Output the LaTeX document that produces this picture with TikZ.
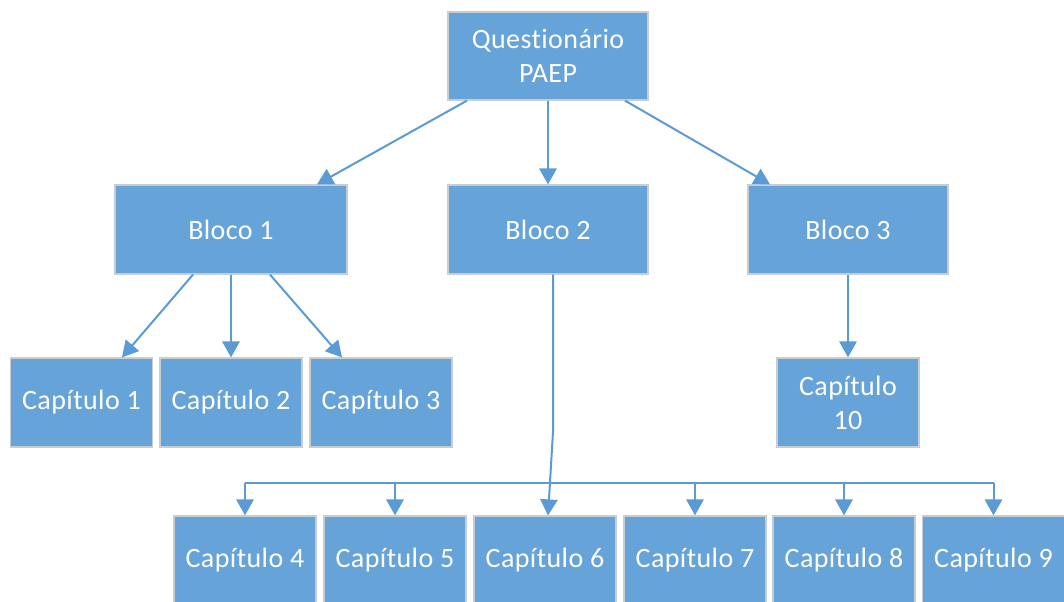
\documentclass[tikz,border=0pt]{standalone}
\usepackage{fontspec}
\setmainfont[Ligatures={NoCommon},LetterSpace=1.5]{Carlito}
\usetikzlibrary{arrows.meta,calc}
\definecolor{boxblue}{RGB}{102,163,216}
\definecolor{lineblue}{RGB}{91,155,213}
\definecolor{boxedge}{RGB}{200,205,210}
\begin{document}
\begin{tikzpicture}[x=0.75pt,y=-0.75pt,
  box/.style={rectangle, fill=boxblue, draw=boxedge, line width=0.9pt, text=white,
    font=\fontsize{21}{25.5}\selectfont, align=center, inner sep=0pt,
    minimum height=66.75pt},
  wbox/.style={box, minimum width=150pt},
  cbox/.style={box, minimum width=106.5pt},
  conn/.style={draw=lineblue, line width=1.5pt, -{Triangle[length=12pt,width=13pt]}},
  bus/.style={draw=lineblue, line width=1.5pt}]
\clip (0,0) rectangle (1064,601);
\fill[white] (0,0) rectangle (1064,601);
\node[wbox, minimum height=66pt] (top) at (548,56) {Questionário\\PAEP};
\node[box, minimum width=174pt] (b1) at (231,229.5) {Bloco 1};
\node[wbox] (b2) at (548,229.5) {Bloco 2};
\node[wbox] (b3) at (848,229.5) {Bloco 3};
\node[cbox] (c1) at (81.5,402.5) {Capítulo 1};
\node[cbox] (c2) at (231,402.5) {Capítulo 2};
\node[cbox] (c3) at (381,402.5) {Capítulo 3};
\node[cbox] (c10) at (848,402.5) {Capítulo\\10};
\node[cbox] (c4) at (245,560.5) {Capítulo 4};
\node[cbox] (c5) at (395,560.5) {Capítulo 5};
\node[cbox] (c6) at (545,560.5) {Capítulo 6};
\node[cbox] (c7) at (695,560.5) {Capítulo 7};
\node[cbox] (c8) at (844,560.5) {Capítulo 8};
\node[cbox] (c9) at (993.5,560.5) {Capítulo 9};
\coordinate (busy) at (0,483);
\coordinate (bend) at (553,432);
% connectors
\draw[conn] ([xshift=-60.75pt]top.south) -- ([xshift=64.5pt]b1.north);
\draw[conn] (top.south) -- (b2.north);
\draw[conn] ([xshift=57.75pt]top.south) -- ([xshift=-58.5pt]b3.north);
\draw[conn] ([xshift=-28.5pt]b1.south) -- ([xshift=30.4pt]c1.north);
\draw[conn] (b1.south) -- (c2.north);
\draw[conn] ([xshift=29.25pt]b1.south) -- ([xshift=-29.25pt]c3.north);
\draw[conn] (b3.south) -- (c10.north);
\draw[conn] ([xshift=3.75pt]b2.south) -- (bend) -- ([xshift=2.25pt]c6.north);
\draw[bus] (c4.north |- busy) -- (c9.north |- busy);
\draw[conn] (c4.north |- busy) -- (c4.north);
\draw[conn] (c5.north |- busy) -- (c5.north);
\draw[conn] (c7.north |- busy) -- (c7.north);
\draw[conn] (c8.north |- busy) -- (c8.north);
\draw[conn] (c9.north |- busy) -- (c9.north);
\end{tikzpicture}
\end{document}
